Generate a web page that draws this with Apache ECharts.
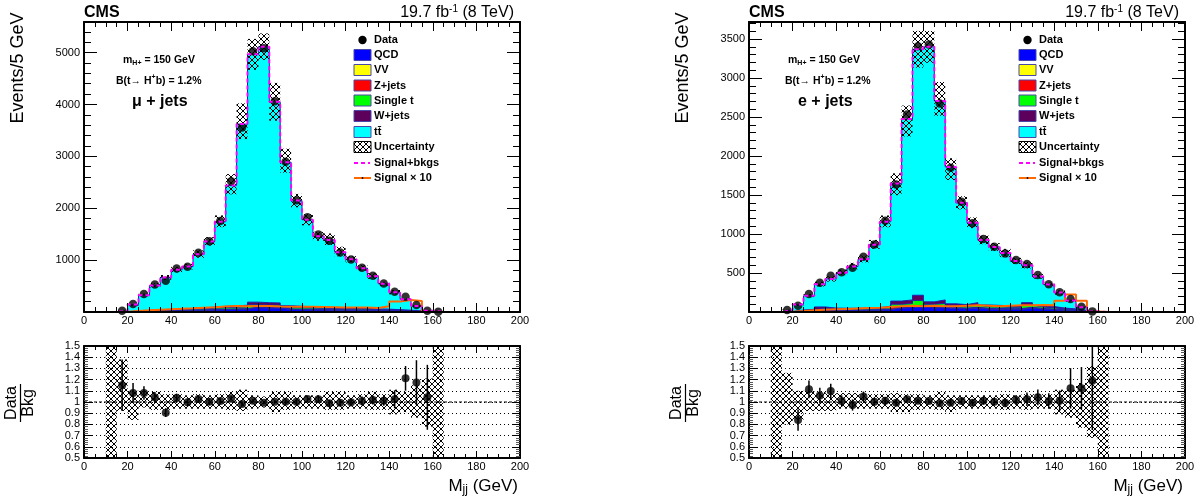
<!DOCTYPE html>
<html>
<head>
<meta charset="utf-8">
<title>CMS Mjj</title>
<script src="https://cdn.jsdelivr.net/npm/echarts@6.0.0/dist/echarts.min.js"></script>
<style>
html,body{margin:0;padding:0;background:#ffffff;}
#chart{width:1204px;height:502px;}
</style>
</head>
<body>
<div id="chart"></div>
<script>
// ---------------- data (bins of 5 GeV, low edges) ----------------
const binLow = [10,15,20,25,30,35,40,45,50,55,60,65,70,75,80,85,90,95,100,105,110,115,120,125,130,135,140,145,150,155,160];
const binWidth = 5;
const xTicks = [0,20,40,60,80,100,120,140,160,180,200];

// mu + jets
const muData  = [null,25,154,346,532,603,840,872,1141,1365,1756,2519,3558,5026,5083,4064,2897,2154,1827,1494,1372,1147,1013,853,699,551,391,295,135,26,5];
const muQCD   = [0,2,8,12,18,20,25,28,32,38,44,48,52,80,75,75,48,44,40,38,36,34,32,28,24,22,18,14,8,2,0];
const muVV    = [0,0,0,1,1,1,1,1,2,2,2,2,3,3,3,3,2,2,2,2,2,2,2,1,1,1,1,1,0,0,0];
const muZ     = [0,1,2,3,4,4,5,6,6,8,9,10,10,12,12,12,10,9,8,8,7,7,6,6,5,4,4,3,2,1,0];
const muST    = [0,1,5,7,11,12,15,17,20,24,28,30,32,45,45,43,30,27,25,23,22,21,20,17,15,14,11,9,5,1,0];
const muW     = [0,1,5,7,11,13,14,18,20,23,27,30,33,50,45,42,30,28,25,24,23,21,20,18,15,14,11,8,5,1,0];
const muTT    = [0,17,123,291,466,616,753,805,1031,1266,1630,2319,3493,4776,4934,3877,2768,2038,1679,1364,1299,1069,936,775,627,489,337,209,95,20,0];
const muSig10 = [0,5,20,35,45,55,65,70,80,90,105,115,110,115,115,105,100,100,100,95,90,85,85,85,75,110,200,230,210,10,0];
const muRatio    = [null,1.15,1.08,1.08,1.04,0.905,1.035,0.997,1.027,1.003,1.009,1.033,0.982,1.012,0.994,1.003,1.003,1.003,1.027,1.024,0.988,0.994,0.997,1.009,1.018,1.012,1.024,1.211,1.173,1.042,null];
const muRatioErr = [null,0.23,0.09,0.06,0.05,0.04,0.04,0.035,0.03,0.03,0.025,0.02,0.02,0.015,0.015,0.015,0.02,0.02,0.025,0.03,0.03,0.03,0.035,0.04,0.04,0.045,0.08,0.11,0.2,0.29,null];
const muUncUp = [2,1.38,1.10,1.10,1.09,1.07,1.07,1.06,1.07,1.06,1.07,1.09,1.11,1.06,1.05,1.09,1.09,1.06,1.06,1.06,1.09,1.09,1.06,1.07,1.09,1.07,1.11,1.09,1.15,1.21,2];
const muUncDn = [0,0.92,0.84,0.95,0.93,0.93,0.94,0.94,0.94,0.94,0.94,0.93,0.92,0.94,0.95,0.91,0.93,0.94,0.94,0.94,0.93,0.93,0.94,0.94,0.93,0.93,0.89,0.91,0.86,0.78,0];

// e + jets
const eData  = [null,26,81,231,376,466,509,568,709,867,1171,1637,2534,3410,3432,2675,1850,1414,1137,936,837,752,667,615,474,355,252,167,68,8,null];
const eQCD   = [0,2,10,14,30,20,20,20,20,22,30,50,55,70,50,55,45,40,50,38,36,34,34,50,36,30,22,18,9,2,0];
const eVV    = [0,0,0,1,1,1,1,1,1,1,1,2,2,2,2,2,1,1,1,1,1,1,1,1,1,1,1,1,0,0,0];
const eZ     = [0,1,3,4,6,5,5,5,5,6,7,12,12,15,12,13,10,9,10,9,8,8,8,10,8,7,5,4,2,1,0];
const eST    = [0,1,6,8,14,12,11,11,12,13,18,36,40,60,36,40,24,22,29,20,19,18,18,27,19,15,11,8,5,1,0];
const eW     = [0,1,6,8,14,12,11,11,12,13,19,40,46,68,30,45,25,23,30,22,21,19,19,32,21,17,11,9,4,1,0];
const eTT    = [0,19,72,173,291,374,456,536,627,809,1082,1507,2320,3155,3271,2552,1756,1306,1024,835,749,677,575,481,370,282,199,109,41,2,0];
const eSig10 = [0,3,12,22,30,35,40,45,50,55,65,75,80,75,80,75,75,80,85,80,75,80,85,85,90,85,145,225,145,5,0];
const eRatio    = [null,null,0.839,1.113,1.057,1.098,1.009,0.973,1.048,1.003,1.012,0.994,1.024,1.012,1.009,0.988,0.994,1.009,0.994,1.012,1.003,0.994,1.018,1.024,1.042,1.009,1.012,1.122,1.122,1.19,null];
const eRatioErr = [null,null,0.095,0.08,0.07,0.065,0.05,0.05,0.045,0.035,0.03,0.025,0.02,0.02,0.02,0.02,0.025,0.03,0.03,0.035,0.035,0.04,0.045,0.06,0.07,0.07,0.09,0.18,0.19,0.44,null];
const eUncUp = [2,1.26,1.10,1.10,1.09,1.08,1.08,1.08,1.07,1.07,1.07,1.08,1.07,1.07,1.06,1.09,1.06,1.06,1.06,1.06,1.06,1.07,1.06,1.07,1.07,1.07,1.11,1.11,1.17,1.32,2];
const eUncDn = [0,0.80,0.84,0.92,0.92,0.92,0.94,0.94,0.94,0.94,0.94,0.91,0.91,0.93,0.94,0.93,0.91,0.94,0.94,0.94,0.94,0.93,0.94,0.93,0.94,0.94,0.89,0.86,0.77,0.68,0];

const legendNames = ['Data','QCD','VV','Z+jets','Single t','W+jets','tt\u0304','Uncertainty','Signal+bkgs','Signal \u00d7 10'];

// ---------------- styles ----------------
const FONT = '"Liberation Sans", Arial, Helvetica, sans-serif';
const compStyle = [
  {name:'QCD', fill:'#0000ff'},
  {name:'VV', fill:'#ffff00'},
  {name:'Z+jets', fill:'#ff0000'},
  {name:'Single t', fill:'#00ff00'},
  {name:'W+jets', fill:'#5c005c'},
  {name:'tt\u0304', fill:'#00ffff'}
];
const OUTLINE = '#2020b0';
const MAGENTA = '#ff00ff';
const ORANGE = '#ff6a00';

function makeHatch(){
  const c = document.createElement('canvas'); c.width = 6; c.height = 6;
  const ctx = c.getContext('2d');
  ctx.strokeStyle = '#000'; ctx.lineWidth = 1;
  ctx.beginPath();
  ctx.moveTo(-1,-1); ctx.lineTo(7,7);
  ctx.moveTo(-1,7); ctx.lineTo(7,-1);
  ctx.stroke();
  return c;
}
const HATCH = {image: makeHatch(), repeat: 'repeat'};

const panels = [
  {left:84, yMax:5590, yMajor:1000, yMinor:200, data:muData, comps:[muQCD,muVV,muZ,muST,muW,muTT], sig10:muSig10,
   ratio:muRatio, ratioErr:muRatioErr, up:muUncUp, dn:muUncDn, channel:'\u03bc + jets', chX:132, mX:123, bX:116},
  {left:749, yMax:3720, yMajor:500, yMinor:100, data:eData, comps:[eQCD,eVV,eZ,eST,eW,eTT], sig10:eSig10,
   ratio:eRatio, ratioErr:eRatioErr, up:eUncUp, dn:eUncDn, channel:'e + jets', chX:798, mX:788, bX:785}
];

const grids = [], xAxes = [], yAxes = [], series = [], graphics = [];

function histPoints(vals){
  const pts = [[xTicks[0], 0]];
  for (let i = 0; i < binLow.length; i++) pts.push([binLow[i], vals[i]]);
  pts.push([binLow[binLow.length-1] + binWidth, 0]);
  pts.push([xTicks[xTicks.length-1], 0]);
  return pts;
}

function xAx(g, pos, label, major, minor){
  return {type:'value', gridIndex:g, position:pos, min:xTicks[0], max:xTicks[xTicks.length-1], interval:20, z:10,
    axisLine:{show:true, onZero:false, lineStyle:{color:'#000', width:2}},
    axisTick:{show:true, inside:true, length:major, lineStyle:{color:'#000', width:1}},
    minorTick:{show:true, splitNumber:4, length:minor, lineStyle:{color:'#000', width:1}},
    axisLabel:{show:label, margin:3, color:'#000', fontSize:11, fontFamily:FONT},
    splitLine:{show:false}, minorSplitLine:{show:false}};
}
function yAxTop(g, pos, max, interval, len, line, label, majorStep){
  return {type:'value', gridIndex:g, position:pos, min:0, max:max, interval:interval, z:10,
    axisLine:{show:line, onZero:false, lineStyle:{color:'#000', width:2}},
    axisTick:{show:true, inside:true, length:len, lineStyle:{color:'#000', width:1}},
    axisLabel:{show:label, margin:4, color:'#000', fontSize:11, fontFamily:FONT, showMinLabel:false, showMaxLabel:false,
      formatter: function(v){ return (v > 0 && Math.abs(v % majorStep) < 1e-6) ? String(v) : ''; }},
    splitLine:{show:false}};
}
function yAxRatio(g, pos, label, split){
  return {type:'value', gridIndex:g, position:pos, min:0.5, max:1.5, interval:0.1, z:10,
    axisLine:{show:true, onZero:false, lineStyle:{color:'#000', width:2}},
    axisTick:{show:true, inside:true, length:8, lineStyle:{color:'#000', width:1}},
    minorTick:{show:true, splitNumber:5, length:4, lineStyle:{color:'#555', width:1}},
    axisLabel:{show:label, margin:4, color:'#000', fontSize:11, fontFamily:FONT},
    splitLine:{show:split, lineStyle:{color:'#000', width:1, type:[1,3]}},
    minorSplitLine:{show:false}};
}

function bandRender(params, api){
  const cs = params.coordSys;
  const a = api.coord([api.value(0), api.value(3)]);
  const b = api.coord([api.value(1), api.value(2)]);
  const y1 = Math.max(Math.min(a[1], b[1]), cs.y);
  const y2 = Math.min(Math.max(a[1], b[1]), cs.y + cs.height);
  if (!(y2 > y1)) return {type:'group', children:[]};
  return {type:'rect', shape:{x:a[0], y:y1, width:b[0]-a[0], height:y2-y1}, style:{fill:HATCH, stroke:null}};
}
function errRender(params, api){
  const cs = params.coordSys;
  const a = api.coord([api.value(0), api.value(2)]);
  const b = api.coord([api.value(0), api.value(1)]);
  const y1 = Math.max(a[1], cs.y), y2 = Math.min(b[1], cs.y + cs.height);
  if (!(y2 > y1)) return {type:'group', children:[]};
  return {type:'line', shape:{x1:a[0], y1:y1, x2:a[0], y2:y2}, style:{stroke:'#000', lineWidth:1.5}};
}

function txt(x, y, text, font, align, extra){
  const o = {type:'text', x:x, y:y, silent:true, style:Object.assign({text:text, font:font, fill:'#000',
    textAlign:align||'left', textVerticalAlign:'middle', align:align||'left', verticalAlign:'middle'}, extra||{})};
  return o;
}

panels.forEach(function(P, p){
  const L = P.left, dx = L - 84;
  const gT = grids.length; grids.push({left:L, top:22, width:436, height:290});
  const gR = grids.length; grids.push({left:L, top:346, width:436, height:112});

  const xT = xAxes.length; xAxes.push(xAx(gT, 'bottom', true, 9, 5)); xAxes.push(xAx(gT, 'top', false, 9, 5));
  const xR = xAxes.length; xAxes.push(xAx(gR, 'bottom', true, 7, 4)); xAxes.push(xAx(gR, 'top', false, 7, 4));
  const yT = yAxes.length;
  yAxes.push(yAxTop(gT, 'left', P.yMax, P.yMajor, 13, true, true, P.yMajor));
  yAxes.push(yAxTop(gT, 'left', P.yMax, P.yMinor, 7, false, false, P.yMajor));
  yAxes.push(yAxTop(gT, 'right', P.yMax, P.yMajor, 13, true, false, P.yMajor));
  yAxes.push(yAxTop(gT, 'right', P.yMax, P.yMinor, 7, false, false, P.yMajor));
  const yR = yAxes.length;
  yAxes.push(yAxRatio(gR, 'left', true, true));
  yAxes.push(yAxRatio(gR, 'right', false, false));

  // cumulative stack (bottom: QCD ... top: ttbar)
  const cum = []; let run = binLow.map(function(){ return 0; });
  P.comps.forEach(function(arr){ run = run.map(function(v, i){ return v + arr[i]; }); cum.push(run.slice()); });
  const total = cum[cum.length-1];

  for (let k = cum.length - 1; k >= 0; k--) {
    series.push({type:'line', name:compStyle[k].name, xAxisIndex:xT, yAxisIndex:yT, data:histPoints(cum[k]),
      step:'end', symbol:'none', showSymbol:false, silent:true, animation:false, z:2,
      lineStyle:{color:OUTLINE, width:1}, areaStyle:{color:compStyle[k].fill, opacity:1, origin:'start'}});
  }
  // uncertainty band (top)
  const bandTop = [];
  binLow.forEach(function(x, i){ if (total[i] > 0) bandTop.push([x, x + binWidth, total[i]*P.dn[i], total[i]*P.up[i]]); });
  series.push({type:'custom', name:'Uncertainty', xAxisIndex:xT, yAxisIndex:yT, renderItem:bandRender, data:bandTop,
    encode:{x:[0,1], y:[2,3]}, z:3, silent:true, animation:false});
  // signal x10
  series.push({type:'line', name:'Signal \u00d7 10', xAxisIndex:xT, yAxisIndex:yT, data:histPoints(P.sig10), step:'end',
    symbol:'none', showSymbol:false, silent:true, animation:false, z:4, lineStyle:{color:ORANGE, width:2}});
  // data
  const pts = [];
  binLow.forEach(function(x, i){ if (P.data[i] != null) pts.push([x + binWidth/2, P.data[i]]); });
  series.push({type:'scatter', name:'Data', xAxisIndex:xT, yAxisIndex:yT, data:pts, symbol:'circle', symbolSize:8.5,
    itemStyle:{color:'#000'}, z:5, silent:true, animation:false});
  // signal + bkgs
  series.push({type:'line', name:'Signal+bkgs', xAxisIndex:xT, yAxisIndex:yT, data:histPoints(total), step:'end',
    symbol:'none', showSymbol:false, silent:true, animation:false, z:6, lineStyle:{color:MAGENTA, width:2, type:[4,3]}});

  // ratio panel
  const bandR = binLow.map(function(x, i){ return [x, x + binWidth, P.dn[i], P.up[i]]; });
  series.push({type:'custom', xAxisIndex:xR, yAxisIndex:yR, renderItem:bandRender, data:bandR,
    encode:{x:[0,1], y:[2,3]}, z:2, silent:true, animation:false});
  series.push({type:'line', xAxisIndex:xR, yAxisIndex:yR, data:[[xTicks[0],1],[xTicks[xTicks.length-1],1]], symbol:'none',
    silent:true, animation:false, z:3, lineStyle:{color:'#000', width:1.2, type:[3,2]}});
  const errs = [], rpts = [];
  binLow.forEach(function(x, i){
    if (P.ratio[i] != null) {
      rpts.push([x + binWidth/2, P.ratio[i]]);
      errs.push([x + binWidth/2, P.ratio[i] - P.ratioErr[i], P.ratio[i] + P.ratioErr[i]]);
    }
  });
  series.push({type:'custom', xAxisIndex:xR, yAxisIndex:yR, renderItem:errRender, data:errs,
    encode:{x:0, y:[1,2]}, z:4, silent:true, animation:false});
  series.push({type:'scatter', xAxisIndex:xR, yAxisIndex:yR, data:rpts, symbol:'circle', symbolSize:8,
    itemStyle:{color:'#000'}, z:5, silent:true, animation:false});

  // ---------- texts ----------
  graphics.push(txt(84 + dx, 13, 'CMS', 'bold 16px ' + FONT, 'left'));
  graphics.push({type:'text', x:514 + dx, y:13, silent:true, style:{
    text:'{n|19.7 fb}{s|-1}{n| (8 TeV)}', textAlign:'right', align:'right', textVerticalAlign:'middle', verticalAlign:'middle', fill:'#000',
    rich:{n:{fontSize:16, fontFamily:FONT, lineHeight:18, fill:'#000'}, s:{fontSize:10, fontFamily:FONT, lineHeight:10, verticalAlign:'top', fill:'#000'}}}});
  graphics.push({type:'text', x:P.mX, y:60, silent:true, style:{
    text:'{t|m}{s|H+}{t| = 150 GeV}', textAlign:'left', align:'left', textVerticalAlign:'middle', verticalAlign:'middle', fill:'#000',
    rich:{t:{fontSize:10.5, fontWeight:'bold', fontFamily:FONT, lineHeight:14, fill:'#000'},
          s:{fontSize:7, fontWeight:'bold', fontFamily:FONT, lineHeight:8, verticalAlign:'bottom', fill:'#000'}}}});
  graphics.push({type:'text', x:P.bX, y:81, silent:true, style:{
    text:'{t|B(t\u2192 H}{p|+}{t|b) = 1.2%}', textAlign:'left', align:'left', textVerticalAlign:'middle', verticalAlign:'middle', fill:'#000',
    rich:{t:{fontSize:10.5, fontWeight:'bold', fontFamily:FONT, lineHeight:14, fill:'#000'},
          p:{fontSize:7, fontWeight:'bold', fontFamily:FONT, lineHeight:8, verticalAlign:'top', fill:'#000'}}}});
  graphics.push(txt(P.chX, 102, P.channel, 'bold 16px ' + FONT, 'left'));

  // axis titles
  graphics.push({type:'text', x:18 + dx, y:68, rotation:Math.PI/2, silent:true, style:{text:'Events/5 GeV', font:'18px ' + FONT,
    fill:'#000', textAlign:'center', align:'center', textVerticalAlign:'middle', verticalAlign:'middle'}});
  graphics.push({type:'text', x:12 + dx, y:403, rotation:Math.PI/2, silent:true, style:{text:'Data', font:'16px ' + FONT,
    fill:'#000', textAlign:'center', align:'center', textVerticalAlign:'middle', verticalAlign:'middle'}});
  graphics.push({type:'text', x:29 + dx, y:403, rotation:Math.PI/2, silent:true, style:{text:'Bkg', font:'16px ' + FONT,
    fill:'#000', textAlign:'center', align:'center', textVerticalAlign:'middle', verticalAlign:'middle'}});
  graphics.push({type:'line', silent:true, shape:{x1:20.5 + dx, y1:384, x2:20.5 + dx, y2:422}, style:{stroke:'#000', lineWidth:1.2}});
  graphics.push({type:'text', x:518 + dx, y:486, silent:true, style:{
    text:'{n|M}{s|jj}{n| (GeV)}', textAlign:'right', align:'right', textVerticalAlign:'middle', verticalAlign:'middle', fill:'#000',
    rich:{n:{fontSize:17, fontFamily:FONT, lineHeight:20, fill:'#000'}, s:{fontSize:12, fontFamily:FONT, lineHeight:12, verticalAlign:'bottom', fill:'#000'}}}});

  // ---------- legend ----------
  const bx = 354 + dx, bw = 17, bh = 11, tx = 374 + dx;
  const rows = [40, 55, 70, 85.5, 100.5, 116, 132, 147, 163, 178];
  graphics.push({type:'circle', silent:true, shape:{cx:bx + bw/2, cy:rows[0], r:4.2}, style:{fill:'#000'}});
  compStyle.forEach(function(c, k){
    graphics.push({type:'rect', silent:true, shape:{x:bx, y:rows[k+1] - bh/2, width:bw, height:bh},
      style:{fill:c.fill, stroke:'#4848a8', lineWidth:1}});
  });
  graphics.push({type:'rect', silent:true, shape:{x:bx, y:rows[7] - bh/2, width:bw, height:bh}, style:{fill:HATCH, stroke:'#000', lineWidth:1}});
  graphics.push({type:'line', silent:true, shape:{x1:bx, y1:rows[8], x2:bx + bw - 1, y2:rows[8]}, style:{stroke:MAGENTA, lineWidth:2, lineDash:[4,3]}});
  graphics.push({type:'line', silent:true, shape:{x1:bx, y1:rows[9], x2:bx + bw, y2:rows[9]}, style:{stroke:ORANGE, lineWidth:2}});
  graphics.push({type:'circle', silent:true, shape:{cx:bx + bw/2, cy:rows[9], r:0.9}, style:{fill:'#000'}});
  legendNames.forEach(function(n, k){ graphics.push(txt(tx, rows[k], n, 'bold 11px ' + FONT, 'left')); });
});

const chart = echarts.init(document.getElementById('chart'), null, {renderer:'canvas'});
chart.setOption({
  backgroundColor:'#ffffff',
  animation:false,
  grid:grids,
  xAxis:xAxes,
  yAxis:yAxes,
  series:series,
  graphic:graphics
});
</script>
</body>
</html>
